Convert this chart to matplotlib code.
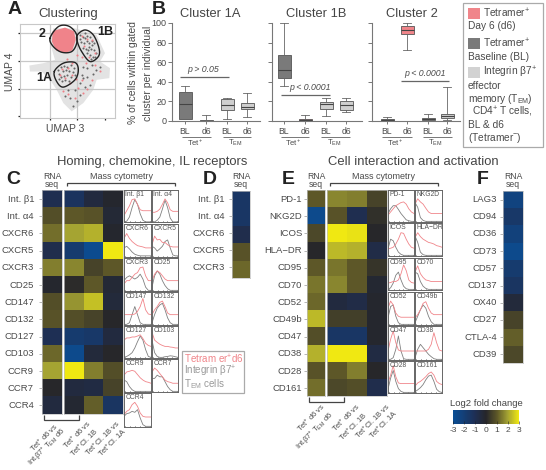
import numpy as np
import matplotlib
matplotlib.use("Agg")
import matplotlib.pyplot as plt
from matplotlib.colors import LinearSegmentedColormap
from matplotlib.cm import ScalarMappable
from matplotlib.colors import Normalize
from matplotlib.patches import Rectangle, Polygon

plt.rcParams['font.family'] = ['Liberation Sans', 'DejaVu Sans']
plt.rcParams['mathtext.fontset'] = 'custom'
plt.rcParams['mathtext.rm'] = 'Liberation Sans'
plt.rcParams['mathtext.it'] = 'Liberation Sans:italic'
plt.rcParams['mathtext.default'] = 'regular'

# ---------- data ----------
blob = [(160,85),(225,85),(290,105),(315,160),(300,185),(330,205),(328,235),(290,240),(280,270),(250,310),
        (215,335),(190,310),(170,270),(150,240),(125,215),(90,215),(88,197),(130,190),(165,180),(150,130)]
pink_region = [(160,95),(195,85),(220,95),(225,120),(215,150),(195,157),(170,150),(158,125)]
contour_2 = [(150,115),(175,80),(205,78),(228,100),(230,130),(215,155),(185,157),(160,140)]
contour_1B = [(232,105),(255,90),(280,105),(297,145),(295,170),(270,185),(245,155),(232,125)]
contour_1A = [(163,215),(190,190),(225,188),(235,210),(225,240),(190,262),(170,245)]
dark_pts = [(240,105),(248,112),(256,100),(262,108),(270,112),(244,125),(252,130),(260,122),(268,128),(276,124),
            (283,130),(250,145),(258,148),(266,140),(274,146),(282,150),(288,160),(262,160),(270,165),(278,170),
            (286,172),(272,178),(240,118),(255,115),(265,150),(275,135),
            (175,210),(183,202),(192,198),(202,200),(212,196),(222,204),(178,222),(188,215),(198,210),(208,214),
            (218,218),(226,226),(182,232),(192,228),(202,225),(212,232),(186,245),(196,240),(206,244),(176,238),
            (248,200),(262,205),(275,195),(288,210),(300,200),(245,225),(262,232),(280,222),(240,250),(255,262),
            (270,255),(225,272),(240,285),(210,295),(195,290),(218,318),(232,305),(205,270),(250,235)]
red_pts = [(245,108),(262,118),(275,120),(285,160),(268,172),(252,138),(232,165),(245,172),(258,190),(200,178),
           (185,208),(205,205),(215,225),(195,235),(180,225),(228,238),(210,250),(245,240),(262,268),(275,240),
           (235,265),(205,282),(225,295),(190,275),(250,280),(300,215),(285,195),(215,190)]
cluster_titles = ['Cluster 1A', 'Cluster 1B', 'Cluster 2']
box_labels = ['BL', 'd6', 'BL', 'd6']
# whislo, q1, median, q3, whishi
box_1A = [(2,2,17,30,36),(0,0,0.5,1,6),(2,11,16,22,23),(4,12,14,18,29)]
box_1B = [(36,44,52,67,100),(0,0,1,2,6),(5,12,17,19,23),(9,11,16,20,23)]
box_2 = [(0,0,1,2,4),(72,89,93,97,100),(0,1,2,3.5,7),(1,3,5,7,35)]

rows_C = ['Int. β1','Int. α4','CXCR6','CXCR5','CXCR3','CD25','CD147','CD132','CD127','CD103','CCR9','CCR7','CCR4']
rna_C = [-0.9,0.8,1.3,-0.8,1.5,-0.1,0.8,0.9,-1.0,1.2,2.0,0.0,-0.5]
mass_C = [[-1.3,-0.5,-0.1],[1.0,0.9,-0.3],[2.0,2.2,-0.1],[-1.8,-2.8,3.0],[1.6,0.6,1.0],[0.1,1.0,-0.3],
          [1.8,2.4,-0.4],[0.8,0.6,0.0],[-1.8,-1.6,-0.5],[-2.7,-0.4,0.0],[3.0,1.5,0.8],[-0.5,-0.6,0.6],[-0.2,1.1,-1.4]]
rows_D = ['Int. β1','Int. α4','CXCR6','CXCR5','CXCR3']
rna_D = [-1.5,-1.5,-0.8,0.9,1.2]
rows_E = ['PD-1','NKG2D','ICOS','HLA−DR','CD95','CD70','CD52','CD49b','CD47','CD38','CD28','CD161']
rna_E = [1.0,-2.7,0.7,0.0,1.0,1.4,1.2,2.3,0.8,2.2,0.9,1.3]
mass_E = [[1.6,1.5,0.6],[0.9,-0.9,0.2],[3.0,2.9,0.0],[2.3,2.2,-0.7],[1.4,1.0,0.3],[1.6,1.0,-0.2],
          [-0.5,-0.7,-0.1],[0.5,0.5,-0.1],[-1.5,-1.5,-0.1],[3.0,3.0,-0.6],[1.0,1.5,0.0],[0.7,0.8,-0.8]]
rows_F = ['LAG3','CD94','CD36','CD73','CD57','CD137','OX40','CD27','CTLA-4','CD39']
rna_F = [-2.3,-1.6,-2.2,-2.7,-1.8,-1.4,-0.4,0.6,1.1,0.7]
colorbar_labels = ['-3','-2','-1','0','1','2','3']

hist_curves = {
 'Int. β1':([.2,.35,.5,.7,.72,.55,.38,.35,.35,.35,.35],[0,.02,.15,.45,.7,.55,.25,.05,0,0,0]),
 'Int. α4':([.3,.3,.33,.4,.55,.72,.6,.38,.33,.33,.33],[0,0,.05,.15,.4,.68,.45,.12,0,0,0]),
 'CXCR6':([.55,.7,.55,.45,.38,.32,.3,.28,.25,.25,.25],[.25,.3,.22,.12,.05,.02,0,0,0,0,0]),
 'CXCR5':([.35,.62,.5,.52,.42,.42,.35,.3,.28,.28,.28],[.3,.25,.15,.22,.3,.45,.5,.25,.03,0,0]),
 'CXCR3':([.2,.3,.3,.4,.5,.55,.7,.72,.45,.3,.3],[.3,.4,.45,.4,.35,.4,.5,.35,.1,0,0]),
 'CD25':([.3,.5,.6,.55,.45,.35,.3,.3,.3,.3,.3],[.1,.45,.6,.5,.3,.15,.05,0,0,0,0]),
 'CD147':([.3,.3,.3,.3,.32,.4,.55,.8,.45,.32,.3],[0,0,.05,.3,.55,.3,.05,0,0,0,0]),
 'CD132':([.3,.45,.55,.68,.72,.55,.35,.3,.3,.3,.3],[.05,.3,.5,.6,.65,.45,.2,.05,0,0,0]),
 'CD127':([.55,.62,.62,.65,.65,.68,.72,.6,.45,.38,.35],[0,.03,.08,.15,.3,.5,.68,.55,.25,.03,0]),
 'CD103':([.8,.55,.48,.42,.38,.35,.35,.33,.32,.3,.3],[.55,.15,.03,0,0,.02,.03,.05,.04,.02,0]),
 'CCR9':([.5,.6,.62,.65,.62,.52,.42,.35,.3,.28,.25],[.35,.3,.15,.05,0,0,0,0,0,0,0]),
 'CCR7':([.6,.72,.65,.55,.45,.35,.3,.28,.25,.25,.25],[.4,.4,.5,.45,.45,.3,.15,.05,0,0,0]),
 'CCR4':([.35,.45,.5,.65,.72,.6,.4,.3,.28,.28,.28],[.3,.38,.4,.45,.42,.5,.25,.05,0,0,0]),
 'PD-1':([.2,.3,.4,.5,.55,.6,.62,.55,.4,.3,.25],[.25,.4,.5,.5,.38,.25,.15,.05,.02,0,0]),
 'NKG2D':([.55,.72,.62,.55,.42,.3,.25,.25,.25,.25,.25],[.6,.45,.12,.03,0,0,0,0,0,0,0]),
 'ICOS':([.2,.22,.25,.35,.5,.7,.68,.5,.35,.25,.22],[.2,.5,.45,.25,.1,.03,0,0,0,0,0]),
 'HLA−DR':([.55,.7,.58,.5,.45,.4,.38,.35,.3,.28,.25],[.6,.4,.1,.02,0,0,0,0,0,0,0]),
 'CD95':([.2,.22,.25,.25,.3,.5,.78,.6,.3,.22,.2],[0,.05,.2,.45,.55,.3,.1,.02,0,0,0]),
 'CD70':([.55,.75,.5,.38,.3,.28,.25,.25,.25,.25,.25],[.55,.5,.25,.1,.03,0,0,0,0,0,0]),
 'CD52':([.5,.72,.6,.35,.25,.22,.22,.22,.22,.22,.22],[.2,.55,.6,.25,.05,0,0,0,0,0,0]),
 'CD49b':([.2,.3,.45,.65,.7,.5,.35,.3,.3,.3,.3],[.05,.25,.45,.6,.5,.25,.08,0,0,0,0]),
 'CD47':([.25,.6,.85,.5,.28,.25,.25,.25,.25,.25,.25],[0,0,.05,.3,.7,.25,.02,0,0,0,0]),
 'CD38':([.25,.25,.25,.25,.25,.3,.45,.8,.5,.28,.25],[.05,.3,.45,.35,.25,.15,.08,.02,0,0,0]),
 'CD28':([.3,.55,.85,.5,.3,.28,.28,.28,.28,.28,.28],[.1,.45,.7,.35,.12,.03,0,0,0,0,0]),
 'CD161':([.2,.3,.35,.42,.5,.6,.65,.55,.35,.28,.25],[.02,.08,.15,.25,.4,.52,.55,.35,.1,.02,0]),
}
grid_C = [['Int. β1','Int. α4'],['CXCR6','CXCR5'],['CXCR3','CD25'],['CD147','CD132'],['CD127','CD103'],['CCR9','CCR7'],['CCR4']]
grid_E = [['PD-1','NKG2D'],['ICOS','HLA−DR'],['CD95','CD70'],['CD52','CD49b'],['CD47','CD38'],['CD28','CD161']]

# ---------- helpers ----------
W, H = 546, 470
fig = plt.figure(figsize=(W/100, H/100), dpi=100, facecolor='white')
def axpx(x0, y0, x1, y1, **kw):
    return fig.add_axes([x0/W, 1-y1/H, (x1-x0)/W, (y1-y0)/H], **kw)

cmap = LinearSegmentedColormap.from_list('fc', [(0,'#0A4E95'),(0.33,'#1E2F55'),(0.5,'#26262A'),
                                                (0.67,'#5E5828'),(0.83,'#A3A233'),(1,'#F0E812')])
TXT = '#4a4a4a'
RED = '#F0858A'

over = axpx(0, 0, W, H, zorder=20)
over.set_xlim(0, W); over.set_ylim(H, 0); over.axis('off'); over.patch.set_alpha(0)
def T(x, y, s, fs=7, c=TXT, ha='center', va='center', **kw):
    return over.text(x, y, s, fontsize=fs, color=c, ha=ha, va=va, **kw)
def L(xs, ys, c='#444444', lw=0.9):
    over.plot(xs, ys, color=c, lw=lw, solid_capstyle='butt', solid_joinstyle='miter')

for (x, y, s) in [(15,9,'A'),(159,9,'B'),(13,180,'C'),(210,180,'D'),(288,180,'E'),(483,180,'F')]:
    T(x, y, s, fs=14, c='#222222', fontweight='bold')

# ---------- panel A ----------
axA = axpx(20, 24, 115, 118)
axA.set_xlim(60, 345); axA.set_ylim(355, 72)
axA.add_patch(Polygon(blob, closed=True, fc='#E3E3E3', ec='none', zorder=1))
for v in (150, 232):
    axA.axvline(v, color='#C8C8C8', lw=0.9, zorder=2)
for v in (98, 183, 268):
    axA.axhline(v, color='#C8C8C8', lw=0.9, zorder=2)
axA.add_patch(Polygon(pink_region, closed=True, fc='#F0838A', ec='#F0838A', lw=1, zorder=3))
axA.scatter(*zip(*dark_pts), s=2.2, c='#666666', lw=0, zorder=3)
axA.scatter(*zip(*red_pts), s=2.2, c='#EE8088', lw=0, zorder=4)
def smooth(points):
    p = np.array(points, float); n = len(p); out = []
    for i in range(n):
        p0, p1, p2, p3 = p[i-1], p[i], p[(i+1)%n], p[(i+2)%n]
        for t in np.arange(0, 1, 0.1):
            out.append(0.5*((2*p1)+(p2-p0)*t+(2*p0-5*p1+4*p2-p3)*t*t+(3*p1-p0-3*p2+p3)*t**3))
    out.append(out[0])
    return np.array(out)
for c in (contour_2, contour_1B, contour_1A):
    s = smooth(c)
    axA.plot(s[:,0], s[:,1], color='#222222', lw=1.0, zorder=5)
for sp in axA.spines.values():
    sp.set_color('#C8C8C8'); sp.set_linewidth(0.8)
axA.set_xticks([150, 232, 315]); axA.set_yticks([98, 183, 268, 350])
axA.tick_params(length=1.5, width=0.9, color='#222222', labelbottom=False, labelleft=False, direction='out', pad=0)
T(68, 14, 'Clustering', fs=9.5, c='#444444')
T(10, 72, 'UMAP 4', fs=7.5, rotation=90)
T(65, 129, 'UMAP 3', fs=7.5)
T(42, 34, '2', fs=9, c='#222222', fontweight='bold')
T(105, 32, '1B', fs=9, c='#222222', fontweight='bold')
T(44, 78, '1A', fs=9, c='#222222', fontweight='bold')

# ---------- panel B ----------
T(133, 73, '% of cells within gated', fs=7.5, rotation=90)
T(148, 73, 'cluster per individual', fs=7.5, rotation=90)
box_cols = ['#7A7A7A', RED, '#CFCFCF', '#CFCFCF']
boxes = [box_1A, box_1B, box_2]
x_ranges = [(172, 260), (272, 362), (372, 460)]
x_pos = [[185,206,227,247], [284,305,326,346], [387,407,428,447]]
for k, (data, xr) in enumerate(zip(boxes, x_ranges)):
    ax = axpx(xr[0], 23, xr[1], 121)
    ax.set_xlim(xr); ax.set_ylim(0, 100)
    ax.patch.set_alpha(0)
    stats = [dict(whislo=d[0], q1=d[1], med=d[2], q3=d[3], whishi=d[4], fliers=[]) for d in data]
    cols = list(box_cols)
    if k == 0:
        cols[1] = '#7A7A7A'
    if k == 2:
        cols[0] = '#7A7A7A'
    bp = ax.bxp(stats, positions=x_pos[k], widths=13, patch_artist=True, showfliers=False,
                manage_ticks=False,
                boxprops=dict(edgecolor='#555555', lw=0.6),
                medianprops=dict(color='#444444', lw=0.8),
                whiskerprops=dict(color='#666666', lw=0.6),
                capprops=dict(color='#666666', lw=0.6), capwidths=8)
    for b, c in zip(bp['boxes'], cols):
        b.set_facecolor(c)
    for s in ('top', 'right'):
        ax.spines[s].set_visible(False)
    for s in ('left', 'bottom'):
        ax.spines[s].set_color('#777777'); ax.spines[s].set_linewidth(0.8)
    ax.set_xticks(x_pos[k]); ax.set_xticklabels(box_labels, fontsize=6.2, color=TXT)
    ax.set_yticks(range(0, 101, 20))
    if k == 0:
        ax.set_yticklabels([str(v) for v in range(0, 101, 20)], fontsize=6.5, color=TXT)
    else:
        ax.set_yticklabels([])
    ax.tick_params(axis='x', length=2.5, width=0.7, color='#777777', pad=1.5)
    ax.tick_params(axis='y', length=3, width=0.7, color='#777777', pad=1)
for (x, s) in zip((210, 316, 412), cluster_titles):
    T(x, 14, s, fs=9.3, c='#444444')
for (a, b, y) in [(182,211,137),(223,251,137),(281,309,137),(321,350,137),(382,412,137),(423,452,137)]:
    L([a, b], [y, y], c='#777777', lw=0.7)
for x in (195, 293, 395):
    T(x, 143, 'Tet$^{+}$', fs=5.5)
for x in (235, 334, 435):
    T(x, 143, 'T$_{EM}$', fs=5.5)
L([180, 229], [77, 77], c='#666666')
L([281, 330], [95, 95], c='#666666')
L([401, 449], [81, 81], c='#666666')
T(203, 69, 'p > 0.05', fs=6.3, style='italic')
T(310, 87, 'p < 0.0001', fs=6.3, style='italic')
T(425, 73, 'p < 0.0001', fs=6.3, style='italic')

# ---------- legend ----------
over.add_patch(Rectangle((463, 3), 80, 144, fc='white', ec='#AAAAAA', lw=0.9))
over.add_patch(Rectangle((468, 8), 12, 11, fc=RED, ec='none'))
over.add_patch(Rectangle((468, 38), 12, 11, fc='#7A7A7A', ec='none'))
over.add_patch(Rectangle((468, 67), 12, 11, fc='#D2D2D2', ec='none'))
for (x, y, s) in [(483,13,'Tetramer$^{+}$'),(468,26,'Day 6 (d6)'),(483,43,'Tetramer$^{+}$'),(468,57,'Baseline (BL)'),
                  (483,72,'Integrin β7$^{+}$'),(468,86,'effector'),(468,99,'memory (T$_{EM}$)'),
                  (472,112,'CD4$^{+}$ T cells,'),(468,125,'BL & d6'),(468,138,'(Tetramer$^{-}$)')]:
    T(x, y, s, fs=7.3, ha='left')

# ---------- heatmaps ----------
def heat(x0, x1, y0, y1, vals, edge='#C0C0C0'):
    a = axpx(x0, y0, x1, y1)
    arr = np.array(vals, float)
    if arr.ndim == 1:
        arr = arr[:, None]
    a.pcolormesh(arr, cmap=cmap, vmin=-3, vmax=3, edgecolors='none')
    a.set_ylim(arr.shape[0], 0)
    a.set_xticks([]); a.set_yticks([])
    for sp in a.spines.values():
        sp.set_color(edge); sp.set_linewidth(0.5)
    return a
def rowlabels(rows, xr, xt, y0, dy):
    for i, r in enumerate(rows):
        y = y0 + i*dy
        T(xr, y, r, fs=6.8, ha='right')
        L([xt-3.5, xt], [y, y], c='#AAAAAA', lw=0.6)

heat(42, 61.5, 190, 413.5, rna_C)
heat(64, 123, 190, 413.5, mass_C)
rowlabels(rows_C, 34, 42, 199, 17.2)
heat(232, 250, 191, 278, rna_D)
rowlabels(rows_D, 225, 232, 199, 17.1)
heat(307, 324.5, 190, 396, rna_E)
heat(327, 387, 190, 396, mass_E)
rowlabels(rows_E, 302, 307, 199, 17.2)
heat(503, 523, 191, 363, rna_F)
rowlabels(rows_F, 497, 503, 199.5, 17.2)

for x in (52, 241, 316, 513):
    T(x, 180.5, 'RNA\nseq', fs=6.2, linespacing=0.85)
T(121, 176.5, 'Mass cytometry', fs=6.5)
T(384, 176.5, 'Mass cytometry', fs=6.5)
L([67, 67, 175, 175], [186, 183, 183, 186], c='#444444', lw=0.9)
L([330, 330, 438, 438], [186, 183, 183, 186], c='#444444', lw=0.9)
T(152, 162, 'Homing, chemokine, IL receptors', fs=9.4, c='#444444')
T(413, 162, 'Cell interaction and activation', fs=9.4, c='#444444')

L([44, 44, 79, 79], [415, 420, 420, 415], c='#444444', lw=0.9)
L([309, 309, 344, 344], [397, 402, 402, 397], c='#444444', lw=0.9)
def rot(x, y, s):
    over.text(x, y, s, fontsize=5.4, color=TXT, rotation=45, ha='right', va='top', rotation_mode='anchor')
rot(53, 421, 'Tet$^{+}$ d6 vs')
rot(60, 426, 'Int.β7$^{+}$ T$_{EM}$ d6')
rot(86, 418, 'Tet$^{+}$ d6 vs')
rot(93, 426, 'Tet$^{+}$Cl. 1B')
rot(115, 418, 'Tet$^{+}$Cl. 1B vs')
rot(122, 426, 'Tet$^{+}$Cl. 1A')
rot(320, 401, 'Tet$^{+}$ d6 vs')
rot(328, 410, 'Int.β7$^{+}$ T$_{EM}$ d6')
rot(355, 401, 'Tet$^{+}$ d6 vs')
rot(362, 410, 'Tet$^{+}$Cl. 1B')
rot(385, 401, 'Tet$^{+}$Cl. 1B vs')
rot(393, 408, 'Tet$^{+}$Cl. 1A')

# ---------- histograms ----------
def hists(grid, cols, rows):
    for r, names in zip(rows, grid):
        for c, name in zip(cols, names):
            a = axpx(c[0], r[0], c[1], r[1])
            red, gray = hist_curves[name]
            xs = np.linspace(0, 1, len(red))
            a.plot(xs, gray, color='#808080', lw=0.6)
            a.plot(xs, red, color=RED, lw=0.6)
            a.set_xlim(0, 1); a.set_ylim(-0.02, 1)
            a.set_yticks([])
            a.set_xticks(np.linspace(0.05, 0.95, 6))
            a.tick_params(axis='x', direction='in', length=1, width=0.5, color='#222222', labelbottom=False)
            for sp in a.spines.values():
                sp.set_color('#666666'); sp.set_linewidth(0.7)
            a.text(0.05, 0.96, name, transform=a.transAxes, fontsize=4.9, color='#555555', va='top', ha='left')
hists(grid_C, [(124,151),(152,178)],
      [(190,222.5),(224,256.5),(258,291),(292,325),(326,358),(359,392),(393,427)])
hists(grid_E, [(388,414),(415,442)],
      [(190,222),(223,256),(258,290),(292,325),(326,360),(361,393)])

# ---------- small legend ----------
over.add_patch(Rectangle((182, 351), 62, 42, fc='white', ec='#AAAAAA', lw=0.9))
T(183.5, 359, 'Tetram er$^{+}$d6', fs=7.1, c=RED, ha='left')
T(183.5, 371, 'Integrin β7$^{+}$', fs=7.1, c='#999999', ha='left')
T(183.5, 384, 'T$_{EM}$ cells', fs=7.1, c='#999999', ha='left')

# ---------- colour bar ----------
cax = axpx(453, 410, 519, 424)
cb = fig.colorbar(ScalarMappable(Normalize(-3, 3), cmap), cax=cax, orientation='horizontal')
cb.set_ticks([-3, -2, -1, 0, 1, 2, 3], labels=colorbar_labels)
cb.ax.tick_params(labelsize=6, length=2, width=0.4, color='#222222', labelcolor=TXT, pad=2.5, direction='in')
cb.outline.set_visible(False)
T(486, 403, 'Log2 fold change', fs=6.8, c='#444444')

fig.savefig('out.png', dpi=100)
